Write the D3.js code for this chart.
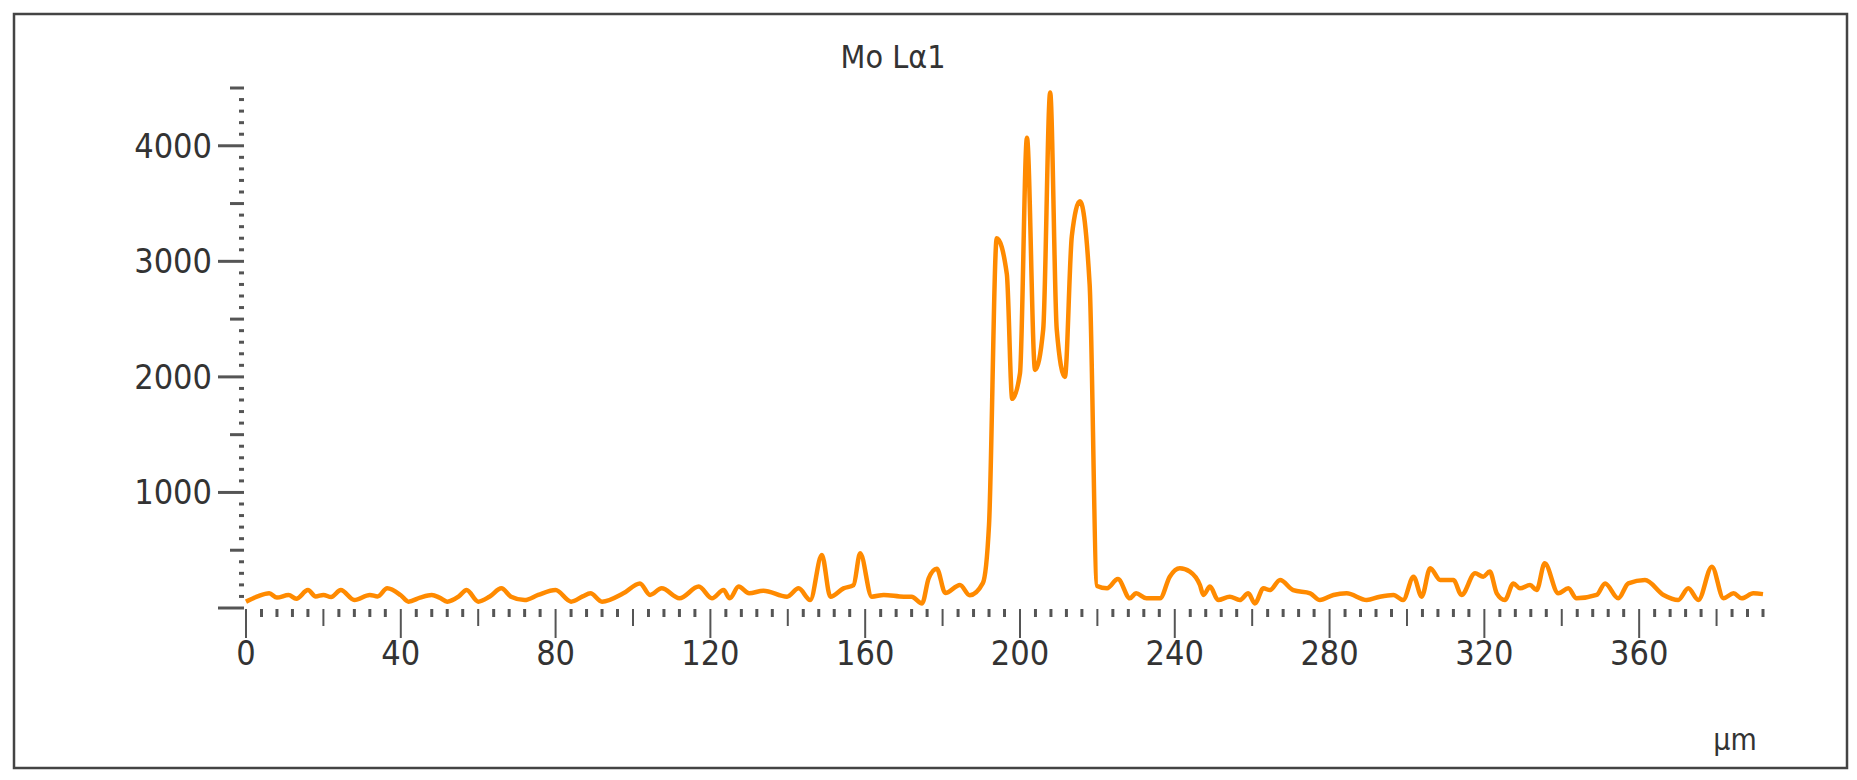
<!DOCTYPE html>
<html>
<head>
<meta charset="utf-8">
<script src="https://cdn.jsdelivr.net/npm/d3@7"></script>
<style>
  body { margin: 0; background: #fff; }
  text { font-family: "Liberation Sans Narrow", "DejaVu Sans Condensed", sans-serif; fill: #333; }
</style>
</head>
<body>
<svg id="chart" width="1857" height="780"></svg>
<script>
// line scan, Mo La1 counts vs distance (µm)
var distance = [
  0, 3, 6, 8, 11, 13, 16, 18, 20, 22,
  24.5, 28, 32, 34, 36.5, 40, 42, 45, 48, 50,
  52, 55, 57, 60, 63, 66, 68.5, 72, 75.5, 80,
  84, 87, 89, 92, 97.5, 101.8, 104.4, 107.4, 112, 117,
  120.4, 123.4, 125, 127.3, 130, 133.7, 139.8, 142.8, 145.8, 148.8,
  151, 154.4, 157, 158.7, 161.7, 164.8, 170, 172, 174.7, 176.4,
  178.5, 180.7, 184.5, 187, 190.4, 192, 194, 196.6, 198, 200,
  201.8, 203.9, 206, 207.8, 209.5, 211.6, 213.4, 215.5, 218, 219.9,
  222.5, 225.3, 228.4, 230, 232.7, 236.2, 238.7, 241.3, 243.9, 246.5,
  247.4, 249.1, 251.2, 254.2, 256.8, 259, 260.7, 262.9, 264.6, 267.2,
  270.6, 275, 277.5, 281, 284.4, 289.6, 293, 296.5, 299, 301.7,
  303.8, 306, 308.6, 312, 314.1, 317.6, 319.7, 321.4, 323.2, 325.3,
  327.5, 329.2, 331.8, 333.5, 335.6, 339.1, 341.7, 343.8, 349, 351.2,
  354.6, 357.2, 361.5, 366.3, 370.1, 372.7, 375.3, 378.8, 381.8, 384.4,
  386.5, 389.5, 392
];
var counts = [
  55, 100, 127, 90, 113, 80, 155, 100, 113, 95,
  155, 69, 113, 100, 170, 110, 55, 90, 113, 90,
  55, 100, 155, 55, 100, 170, 98, 69, 113, 155,
  55, 100, 127, 55, 127, 213, 113, 170, 84, 185,
  84, 155, 84, 185, 127, 150, 98, 170, 69, 459,
  98, 170, 199, 473, 98, 113, 98, 98, 40, 257,
  340, 130, 200, 110, 215, 720, 3200, 2890, 1810, 2030,
  4070, 2060, 2410, 4460, 2410, 2000, 3220, 3520, 2800, 190,
  170, 250, 84, 127, 84, 84, 271, 344, 315, 199,
  113, 185, 69, 98, 69, 127, 40, 170, 155, 242,
  155, 127, 69, 113, 127, 69, 98, 113, 69, 271,
  98, 344, 242, 242, 113, 300, 271, 315, 127, 69,
  213, 170, 199, 155, 387, 127, 170, 84, 113, 213,
  84, 213, 242, 113, 69, 170, 69, 358, 84, 127,
  84, 127, 120
];
var xTickLabels = [0, 40, 80, 120, 160, 200, 240, 280, 320, 360];
var yTickLabels = [1000, 2000, 3000, 4000];
var title = 'Mo L\u03b11';
var unit = '\u00b5m';

var svg = d3.select('#chart');

// outer frame
svg.append('rect')
    .attr('x', 14).attr('y', 14)
    .attr('width', 1833).attr('height', 754)
    .attr('fill', 'none').attr('stroke', '#444').attr('stroke-width', 2.5);

var x = d3.scaleLinear().domain([0, 392]).range([246, 1763]);
var y = d3.scaleLinear().domain([0, 4500]).range([608, 88]);

var tickColor = '#555';

// y axis: dotted look made of minor ticks every 100
var yTicks = d3.range(0, 4501, 100);
svg.append('g').selectAll('line').data(yTicks).enter().append('line')
    .attr('x1', 244)
    .attr('x2', function(d) { return d % 1000 === 0 ? 218 : (d % 500 === 0 ? 230 : 239); })
    .attr('y1', function(d) { return y(d); })
    .attr('y2', function(d) { return y(d); })
    .attr('stroke', tickColor).attr('stroke-width', 3);

svg.append('g').selectAll('text').data(yTickLabels).enter().append('text')
    .attr('x', 212)
    .attr('y', function(d) { return y(d) + 12; })
    .attr('text-anchor', 'end')
    .attr('font-size', 34)
    .text(function(d) { return d; });

// x axis ticks every 4 µm
var xTicks = d3.range(0, 393, 4);
svg.append('g').selectAll('line').data(xTicks).enter().append('line')
    .attr('x1', function(d) { return x(d); })
    .attr('x2', function(d) { return x(d); })
    .attr('y1', 609)
    .attr('y2', function(d) { return d % 40 === 0 ? 638 : (d % 20 === 0 ? 626 : 617); })
    .attr('stroke', tickColor)
    .attr('stroke-width', function(d) { return d % 20 === 0 ? 2 : 3; });

svg.append('g').selectAll('text').data(xTickLabels).enter().append('text')
    .attr('x', function(d) { return x(d); })
    .attr('y', 665)
    .attr('text-anchor', 'middle')
    .attr('font-size', 34)
    .text(function(d) { return d; });

// profile line
var pts = distance.map(function(d, i) { return [d, counts[i]]; });
svg.append('path')
    .datum(pts)
    .attr('fill', 'none')
    .attr('stroke', '#ff8a00')
    .attr('stroke-width', 4.5)
    .attr('stroke-linejoin', 'round')
    .attr('d', d3.line()
        .curve(d3.curveMonotoneX)
        .x(function(d) { return x(d[0]); })
        .y(function(d) { return y(d[1]); }));

svg.append('text')
    .attr('x', 893).attr('y', 68)
    .attr('text-anchor', 'middle')
    .attr('font-size', 32)
    .text(title);

svg.append('text')
    .attr('x', 1735).attr('y', 750)
    .attr('text-anchor', 'middle')
    .attr('font-size', 30)
    .text(unit);
</script>
</body>
</html>
